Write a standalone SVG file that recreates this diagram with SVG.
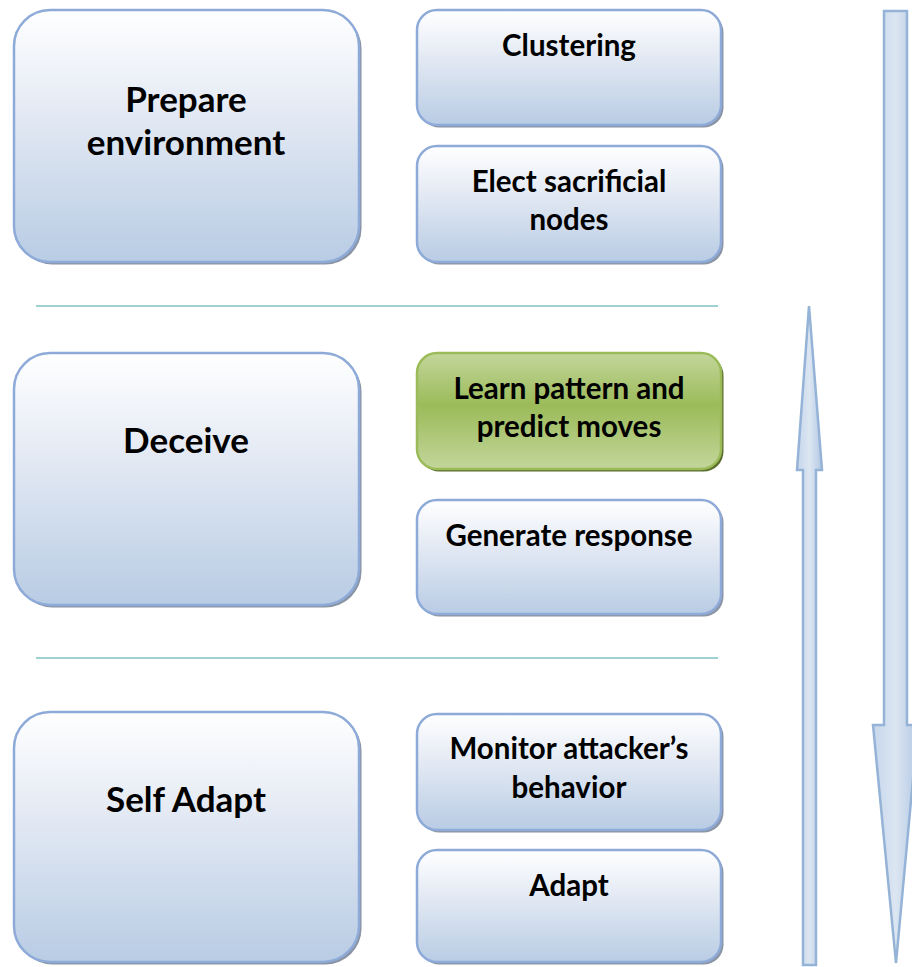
<svg xmlns="http://www.w3.org/2000/svg" width="912" height="967" viewBox="0 0 912 967">
<defs>
<linearGradient id="gBlue" x1="0" y1="0" x2="0" y2="1">
<stop offset="0" stop-color="#ffffff"/>
<stop offset="0.4" stop-color="#e4eaf4"/>
<stop offset="1" stop-color="#b8cce4"/>
</linearGradient>
<linearGradient id="gGreen" x1="0" y1="0" x2="0" y2="1">
<stop offset="0" stop-color="#c3d69b"/>
<stop offset="0.45" stop-color="#9bbb59"/>
<stop offset="1" stop-color="#c3d69b"/>
</linearGradient>
<linearGradient id="gArrow" x1="0" y1="0" x2="1" y2="0">
<stop offset="0" stop-color="#c6d6ec"/>
<stop offset="0.5" stop-color="#dce6f2"/>
<stop offset="1" stop-color="#b3c8e4"/>
</linearGradient>
<style>
.big{fill:url(#gBlue);stroke:#8eaad8;stroke-width:2.5}
.sm{fill:url(#gBlue);stroke:#8eaad8;stroke-width:2.5}
.shadow{fill:#8a94a3}
.gshadow{fill:#5a6e2e}
.green{fill:url(#gGreen);stroke:#9bbb59;stroke-width:2.5}
.sep{stroke:#9fd0d3;stroke-width:2}
.arrow{fill:url(#gArrow);stroke:#95b3d7;stroke-width:2.5;stroke-linejoin:miter}
text{font-family:Lato,"Open Sans","Liberation Sans",sans-serif;font-weight:bold;fill:#000;text-anchor:middle}
.t1{font-size:35px}
.t2{font-size:29.5px}
</style>
</defs>

<g id="sep-lines">
<line class="sep" x1="36" y1="306" x2="718" y2="306"/>
<line class="sep" x1="36" y1="658" x2="718" y2="658"/>
</g>

<g id="prepare">
<rect class="shadow" x="16.5" y="12.5" width="345" height="252" rx="36"/>
<rect class="big" x="14" y="10" width="345" height="252" rx="36"/>
<text class="t1" x="186" y="112">Prepare</text>
<text class="t1" x="186" y="155">environment</text>
</g>
<g id="deceive">
<rect class="shadow" x="16.5" y="355.5" width="345" height="252" rx="36"/>
<rect class="big" x="14" y="353" width="345" height="252" rx="36"/>
<text class="t1" x="186" y="453">Deceive</text>
</g>
<g id="selfadapt">
<rect class="shadow" x="16.5" y="714.5" width="345" height="250" rx="36"/>
<rect class="big" x="14" y="712" width="345" height="250" rx="36"/>
<text class="t1" x="186" y="812">Self Adapt</text>
</g>

<g id="clustering">
<rect class="shadow" x="419.5" y="12.5" width="304" height="115" rx="20"/>
<rect class="sm" x="417" y="10" width="304" height="115" rx="20"/>
<text class="t2" x="569" y="56">Clustering</text>
</g>
<g id="elect">
<rect class="shadow" x="419.5" y="148.5" width="304" height="116" rx="20"/>
<rect class="sm" x="417" y="146" width="304" height="116" rx="20"/>
<text class="t2" x="569" y="192">Elect sacrificial</text>
<text class="t2" x="569" y="230">nodes</text>
</g>
<g id="learn">
<rect class="gshadow" x="419.5" y="355.5" width="304" height="116" rx="20"/>
<rect class="green" x="417" y="353" width="304" height="116" rx="20"/>
<text class="t2" x="569" y="399">Learn pattern and</text>
<text class="t2" x="569" y="437">predict moves</text>
</g>
<g id="generate">
<rect class="shadow" x="419.5" y="502.5" width="304" height="114" rx="20"/>
<rect class="sm" x="417" y="500" width="304" height="114" rx="20"/>
<text class="t2" x="569" y="546">Generate response</text>
</g>
<g id="monitor">
<rect class="shadow" x="419.5" y="716.5" width="304" height="116" rx="20"/>
<rect class="sm" x="417" y="714" width="304" height="116" rx="20"/>
<text class="t2" x="569" y="759">Monitor attacker’s</text>
<text class="t2" x="569" y="798">behavior</text>
</g>
<g id="adapt">
<rect class="shadow" x="419.5" y="852.5" width="304" height="112" rx="20"/>
<rect class="sm" x="417" y="850" width="304" height="112" rx="20"/>
<text class="t2" x="569" y="896">Adapt</text>
</g>

<g id="connectors">
<polygon class="arrow" points="809,306 822,470 816,470 816,965 803,965 803,470 797,470"/>
<polygon class="arrow" points="884,11 907,11 907,725 918,725 896,963 873,725 884,725"/>
</g>
</svg>
